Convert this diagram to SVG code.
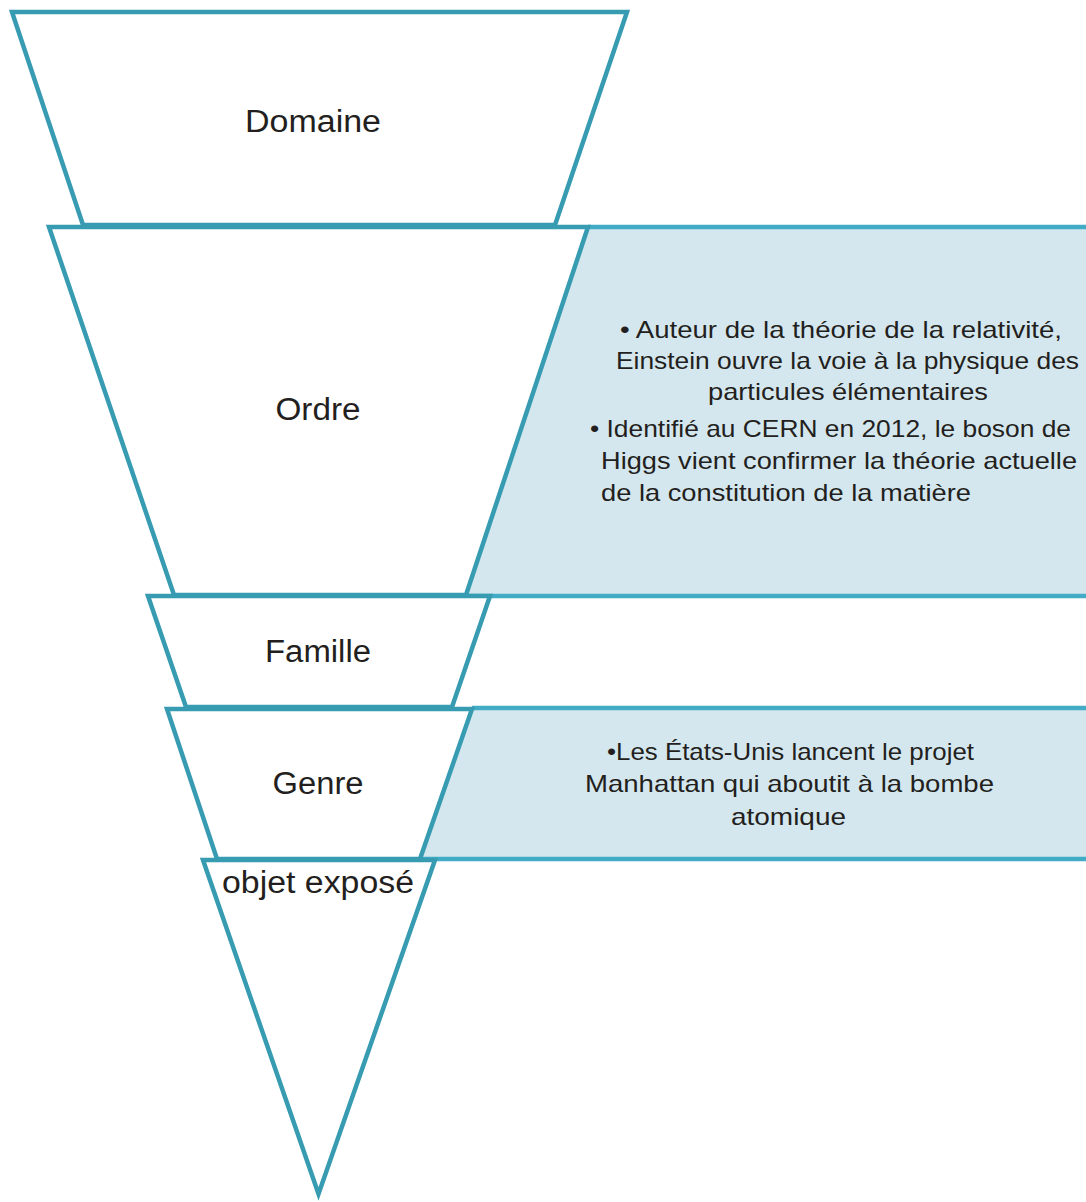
<svg xmlns="http://www.w3.org/2000/svg" width="1086" height="1202" viewBox="0 0 1086 1202">
<style>
.lvl{fill:#ffffff;stroke:#379cb2;stroke-width:4.5;stroke-linejoin:miter}
.pan{fill:#d5e7ee;stroke:none}
.pl{stroke:#42abc6;stroke-width:4.5;fill:none}
.lbl{font-family:"Liberation Sans",Arial,sans-serif;font-size:31px;fill:#231f20;text-anchor:middle}
.txt{font-family:"Liberation Sans",Arial,sans-serif;font-size:24px;fill:#231f20}
</style>
<rect width="1086" height="1202" fill="#ffffff"/>
<g id="panels">
<g id="panel1">
<polygon class="pan" points="588,227 1086,227 1086,595 466,595"/>
<line class="pl" x1="588" y1="227" x2="1090" y2="227"/>
<line class="pl" x1="466" y1="596" x2="1090" y2="596"/>
<text class="txt"><tspan x="620" y="338" textLength="442" lengthAdjust="spacingAndGlyphs">• Auteur de la théorie de la relativité,</tspan><tspan x="616" y="369" textLength="463" lengthAdjust="spacingAndGlyphs">Einstein ouvre la voie à la physique des</tspan><tspan x="708" y="400" textLength="280" lengthAdjust="spacingAndGlyphs">particules élémentaires</tspan><tspan x="590" y="437" textLength="481" lengthAdjust="spacingAndGlyphs">• Identifié au CERN en 2012, le boson de</tspan><tspan x="601" y="469" textLength="476" lengthAdjust="spacingAndGlyphs">Higgs vient confirmer la théorie actuelle</tspan><tspan x="601" y="501" textLength="370" lengthAdjust="spacingAndGlyphs">de la constitution de la matière</tspan></text>
</g>
<g id="panel2">
<polygon class="pan" points="472,708 1086,708 1086,859 420,859"/>
<line class="pl" x1="472" y1="708" x2="1090" y2="708"/>
<line class="pl" x1="420" y1="859" x2="1090" y2="859"/>
<text class="txt"><tspan x="607" y="760" textLength="367" lengthAdjust="spacingAndGlyphs">•Les États-Unis lancent le projet</tspan><tspan x="585" y="792" textLength="409" lengthAdjust="spacingAndGlyphs">Manhattan qui aboutit à la bombe</tspan><tspan x="731" y="825" textLength="115" lengthAdjust="spacingAndGlyphs">atomique</tspan></text>
</g>
</g>
<g id="connectors"></g>
<g id="domaine">
<polygon class="lvl" points="12,12 627,12 555,225 83,225"/>
<text class="lbl" x="313" y="132" textLength="136" lengthAdjust="spacingAndGlyphs">Domaine</text>
</g>
<g id="ordre">
<polygon class="lvl" points="49,227 588,227 466,595 174,595"/>
<text class="lbl" x="318" y="420" textLength="85" lengthAdjust="spacingAndGlyphs">Ordre</text>
</g>
<g id="famille">
<polygon class="lvl" points="148,596 490,596 452,707 186,707"/>
<text class="lbl" x="318" y="662" textLength="106" lengthAdjust="spacingAndGlyphs">Famille</text>
</g>
<g id="genre">
<polygon class="lvl" points="167,709 472,709 420,859 217,859"/>
<text class="lbl" x="318" y="794" textLength="91" lengthAdjust="spacingAndGlyphs">Genre</text>
</g>
<g id="objet">
<polygon class="lvl" points="203,860 435,860 318.5,1194"/>
<text class="lbl" x="318" y="893" textLength="192" lengthAdjust="spacingAndGlyphs">objet exposé</text>
</g>
</svg>
